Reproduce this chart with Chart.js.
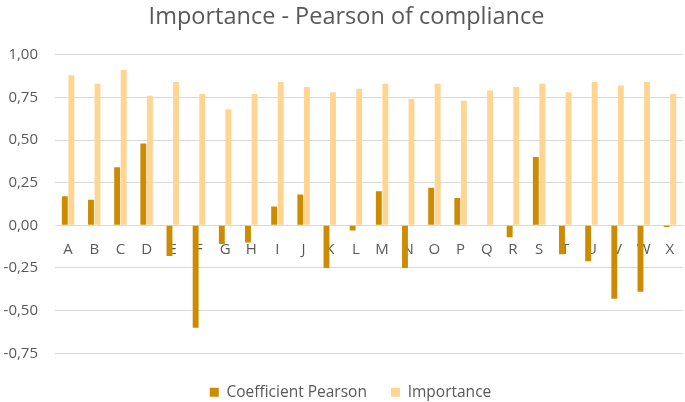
<!DOCTYPE html>
<html lang="en">
<head>
    <meta charset="UTF-8">
    <title>Importance - Pearson of compliance</title>
    <script src="https://cdn.jsdelivr.net/npm/chart.js@4.4.1/dist/chart.umd.min.js"></script>
    <style>
        html, body {
            margin: 0;
            padding: 0;
            background: #ffffff;
        }
        #wrap {
            width: 685px;
            height: 402px;
        }
    </style>
</head>
<body>
    <div id="wrap">
        <canvas id="chart"></canvas>
    </div>

    <script>
        // data
        const labels = ['A', 'B', 'C', 'D', 'E', 'F', 'G', 'H', 'I', 'J', 'K', 'L',
                        'M', 'N', 'O', 'P', 'Q', 'R', 'S', 'T', 'U', 'V', 'W', 'X'];
        const pearson = [0.17, 0.15, 0.34, 0.48, -0.18, -0.60, -0.11, -0.10, 0.11, 0.18, -0.25, -0.03,
                         0.20, -0.25, 0.22, 0.16, 0.00, -0.07, 0.40, -0.17, -0.21, -0.43, -0.39, -0.01];
        const importance = [0.88, 0.83, 0.91, 0.76, 0.84, 0.77, 0.68, 0.77, 0.84, 0.81, 0.78, 0.80,
                            0.83, 0.74, 0.83, 0.73, 0.79, 0.81, 0.83, 0.78, 0.84, 0.82, 0.84, 0.77];
        const yTicks = [-0.75, -0.5, -0.25, 0, 0.25, 0.5, 0.75, 1];

        const textColor = '#595959';
        const fontFamily = "'Open Sans', 'Liberation Sans', sans-serif";

        // nudge title and legend a little to the right, like the original
        const shiftBlocks = {
            id: 'shiftBlocks',
            afterLayout(chart) {
                chart.titleBlock.left += 5;
                chart.titleBlock.right += 5;
                chart.legend.left += 9;
                chart.legend.right += 9;
            }
        };

        new Chart(document.getElementById('chart'), {
            type: 'bar',
            data: {
                labels: labels,
                datasets: [{
                    label: 'Coefficient Pearson',
                    data: pearson,
                    backgroundColor: '#CC8B00',
                    categoryPercentage: 0.5,
                    barPercentage: 0.9
                }, {
                    label: 'Importance',
                    data: importance,
                    backgroundColor: '#FFD591',
                    categoryPercentage: 0.5,
                    barPercentage: 0.9
                }]
            },
            options: {
                responsive: true,
                maintainAspectRatio: false,
                animation: false,
                layout: {
                    // negative bottom pad: legend items sit 10px above the legend box bottom
                    padding: { left: 0, right: 2, top: 3, bottom: -8 }
                },
                plugins: {
                    title: {
                        display: true,
                        text: 'Importance - Pearson of compliance',
                        color: textColor,
                        font: { family: fontFamily, size: 23.5, weight: 'normal' },
                        padding: { top: 0, bottom: 23.5 }
                    },
                    legend: {
                        position: 'bottom',
                        // empty title used as a spacer between plot and legend
                        title: {
                            display: true,
                            text: '',
                            font: { size: 1 },
                            padding: { top: 6, bottom: 0 }
                        },
                        labels: {
                            color: textColor,
                            font: { family: fontFamily, size: 15.5 },
                            boxWidth: 9,
                            boxHeight: 9,
                            padding: 24
                        }
                    },
                    tooltip: { enabled: false }
                },
                scales: {
                    x: {
                        position: { y: 0 },
                        z: 1,
                        grid: { display: false },
                        border: { color: '#D9D9D9' },
                        ticks: {
                            color: textColor,
                            font: { family: fontFamily, size: 15 },
                            padding: 7
                        }
                    },
                    y: {
                        min: -0.75,
                        max: 1,
                        afterBuildTicks: function (axis) {
                            axis.ticks = yTicks.map(v => ({ value: v }));
                        },
                        afterFit: function (axis) {
                            axis.width = 55;
                        },
                        grid: { color: '#D9D9D9', lineWidth: 1, drawTicks: false },
                        border: { display: false },
                        ticks: {
                            color: textColor,
                            font: { family: fontFamily, size: 15 },
                            padding: 17,
                            callback: v => v.toFixed(2).replace('.', ',')
                        }
                    }
                }
            },
            plugins: [shiftBlocks]
        });
    </script>
</body>
</html>
